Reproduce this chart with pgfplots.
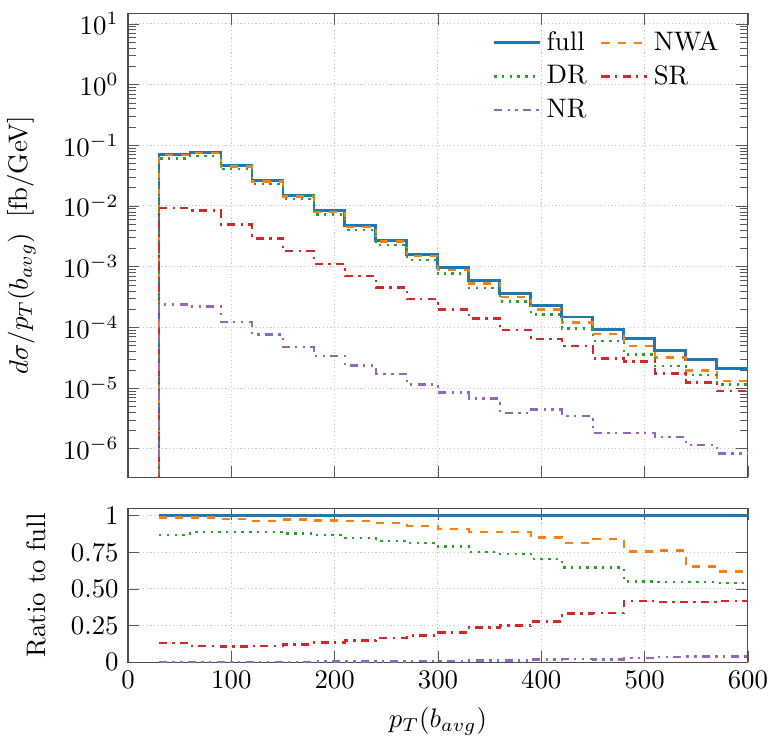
\documentclass[border=0pt]{standalone}
\usepackage{pgfplots}
\usepackage{pgfplotstable}
\pgfplotsset{compat=1.18}
\definecolor{cblue}{RGB}{31,119,180}
\definecolor{corange}{RGB}{255,127,14}
\definecolor{cgreen}{RGB}{44,160,44}
\definecolor{cred}{RGB}{214,39,40}
\definecolor{cpurple}{RGB}{148,103,189}

% bin low edge, values; last row repeats last bin to close at 600
\pgfplotstableread{
x full NWA DR SR NR
30 1e-9 1e-9 1e-9 1e-9 1e-9
30 0.0700 0.0690 0.0608 0.00924 2.39e-4
60 0.0755 0.0744 0.0670 0.00846 2.21e-4
90 0.0460 0.0449 0.0409 0.00492 1.22e-4
120 0.0260 0.02506 0.02311 0.00291 7.6e-5
150 0.0147 0.01430 0.01291 0.001793 4.74e-5
180 0.0083 0.00802 0.00720 0.001112 3.37e-5
210 0.0047 0.004521 0.003986 6.96e-4 2.34e-5
240 0.00273 0.002594 0.00226 4.53e-4 1.69e-5
270 0.0016 0.001488 0.0013 2.91e-4 1.15e-5
300 0.00097 0.00088 0.000765 1.96e-4 8.43e-6
330 5.93e-4 5.27e-4 4.45e-4 1.40e-4 6.71e-6
360 3.58e-4 3.175e-4 2.646e-4 8.95e-5 3.89e-6
390 2.30e-4 1.96e-4 1.617e-4 6.39e-5 4.42e-6
420 1.48e-4 1.202e-4 9.56e-5 4.90e-5 3.47e-6
450 9.2e-5 7.72e-5 5.94e-5 3.09e-5 1.83e-6
480 6.5e-5 4.91e-5 3.58e-5 2.72e-5 1.83e-6
510 4.2e-5 3.20e-5 2.30e-5 1.726e-5 1.55e-6
540 2.98e-5 1.946e-5 1.63e-5 1.225e-5 1.15e-6
570 2.12e-5 1.312e-5 1.149e-5 8.86e-6 8.4e-7
600 2.12e-5 1.312e-5 1.149e-5 8.86e-6 8.4e-7
}\maintable

\pgfplotstableread{
x full NWA DR SR NR
30 1 0.986 0.869 0.132 0.0034
60 1 0.986 0.887 0.112 0.0029
90 1 0.976 0.889 0.107 0.0027
120 1 0.964 0.889 0.112 0.0029
150 1 0.973 0.878 0.122 0.0032
180 1 0.966 0.867 0.134 0.0041
210 1 0.962 0.848 0.148 0.0050
240 1 0.950 0.828 0.166 0.0062
270 1 0.930 0.812 0.182 0.0072
300 1 0.907 0.789 0.202 0.0087
330 1 0.889 0.751 0.236 0.0113
360 1 0.887 0.739 0.250 0.0109
390 1 0.852 0.703 0.278 0.0192
420 1 0.812 0.646 0.331 0.0234
450 1 0.839 0.646 0.336 0.0199
480 1 0.755 0.551 0.418 0.0282
510 1 0.762 0.547 0.411 0.0369
540 1 0.653 0.547 0.411 0.0386
570 1 0.619 0.542 0.418 0.0396
600 1 0.619 0.542 0.418 0.0396
}\ratiotable

\begin{document}
\begin{tikzpicture}
\pgfplotsset{
  mystyle/.style={
    scale only axis, width=231.5pt, xmin=0, xmax=600,
    grid=major, grid style={densely dotted, gray!45},
    every axis plot/.append style={const plot, line width=0.9pt},
    tick style={gray!70!black},
    axis line style={gray!60!black},
  },
  sfull/.style={cblue, solid, line width=1.1pt},
  snwa/.style={corange, dashed},
  sdr/.style={cgreen, dotted},
  ssr/.style={cred, dashdotted},
  snr/.style={cpurple, dashdotdotted},
}
\begin{axis}[mystyle, name=top, height=173.3pt, ymode=log,
  ymin=3.4e-7, ymax=15,
  ytick={1e-6,1e-5,1e-4,1e-3,1e-2,1e-1,1,10},
  xtick={0,100,...,600}, xticklabels={},
  ylabel={$d\sigma/p_T(b_{avg})$\;\;[fb/GeV]},
  ylabel shift=3.4pt,
  legend columns=2,
  legend style={draw=none, fill=none, at={(0.975,0.985)}, anchor=north east,
    row sep=0pt, column sep=0pt,
    /tikz/every even column/.append style={column sep=3pt}},
  legend cell align=left,
]
\addplot[sfull] table[x=x, y=full] {\maintable};
\addlegendentry{full}
\addplot[snwa] table[x=x, y=NWA] {\maintable};
\addlegendentry{NWA}
\addplot[sdr] table[x=x, y=DR] {\maintable};
\addlegendentry{DR}
\addplot[ssr] table[x=x, y=SR] {\maintable};
\addlegendentry{SR}
\addplot[snr] table[x=x, y=NR] {\maintable};
\addlegendentry{NR}
\end{axis}
\begin{axis}[mystyle, name=bot, at={(top.south west)}, anchor=north west, yshift=-11.6pt,
  height=57.5pt, ymin=0, ymax=1.05,
  ytick={0,0.25,0.5,0.75,1}, yticklabels={0,0.25,0.50,0.75,1},
  xtick={0,100,...,600},
  xlabel={$p_T(b_{avg})$}, ylabel={Ratio to full},
  ylabel shift=2.5pt,
]
\addplot[sfull] table[x=x, y=full] {\ratiotable};
\addplot[snwa] table[x=x, y=NWA] {\ratiotable};
\addplot[sdr] table[x=x, y=DR] {\ratiotable};
\addplot[ssr] table[x=x, y=SR] {\ratiotable};
\addplot[snr] table[x=x, y=NR] {\ratiotable};
\end{axis}
\pgfresetboundingbox
\useasboundingbox ([xshift=-47.8pt, yshift=4.9pt]top.north west) rectangle ([xshift=7.5pt, yshift=-28pt]bot.south east);
\end{tikzpicture}
\end{document}
